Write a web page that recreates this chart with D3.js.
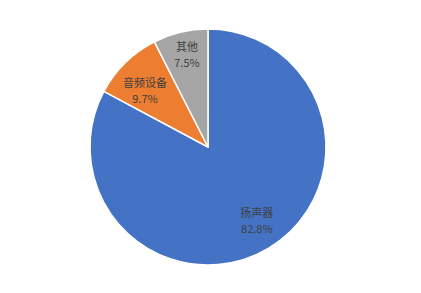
<!DOCTYPE html>
<html><head><meta charset="utf-8">
<script src="https://cdn.jsdelivr.net/npm/d3@7"></script>
<style>html,body{margin:0;padding:0;background:#fff;}svg{display:block;}</style>
</head><body>
<svg id="c" width="421" height="293"></svg>
<script>
const categories = ["扬声器", "音频设备", "其他"];
const values = [82.8, 9.7, 7.5];
const labels = ["82.8%", "9.7%", "7.5%"];
const colors = ["#4472C4", "#ED7D31", "#A5A5A5"];

const svg = d3.select("#c");
const cx = 208, cy = 147, r = 118;
const g = svg.append("g").attr("transform", `translate(${cx},${cy})`);
const data = categories.map((c, i) => ({name: c, value: values[i], label: labels[i], color: colors[i]}));
const pie = d3.pie().value(d => d.value).sort(null);
const arcs = pie(data);
const arc = d3.arc().innerRadius(0).outerRadius(r);
g.selectAll("path").data(arcs).join("path")
  .attr("d", arc).attr("fill", d => d.data.color)
  .attr("stroke", "#fff").attr("stroke-width", 1.5).attr("stroke-linejoin", "round");

// layout: label radius factor and small nudges (px)
const labelR = [0.755, 0.715, 0.80];
const nudge = [[3, -2], [-4, 4], [1, 0]];
const font = "'Microsoft YaHei','Noto Sans CJK SC','Noto Sans',sans-serif";
arcs.forEach((d, i) => {
  const a = (d.startAngle + d.endAngle) / 2;
  const lr = r * labelR[i];
  const x = Math.sin(a) * lr + nudge[i][0], y = -Math.cos(a) * lr + nudge[i][1];
  const t = g.append("text").attr("text-anchor", "middle").attr("font-family", font)
    .attr("font-size", 11).attr("fill", "#404040");
  t.append("tspan").attr("x", x).attr("y", y - 4).text(d.data.name);
  t.append("tspan").attr("x", x).attr("y", y + 12).text(d.data.label);
});
</script>
</body></html>
